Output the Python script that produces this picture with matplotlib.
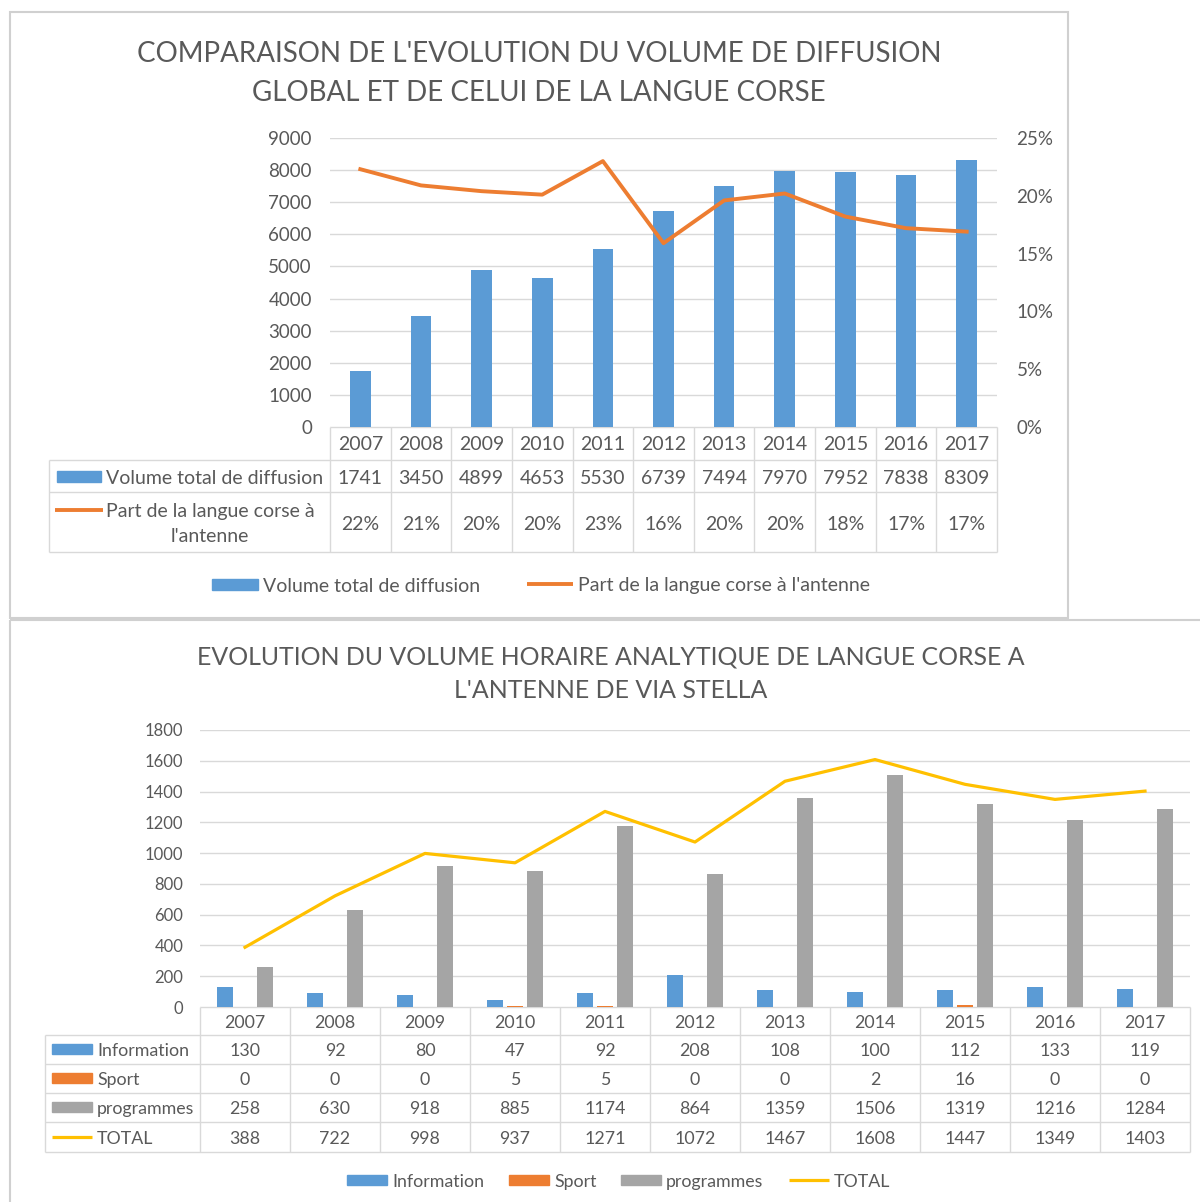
import matplotlib
matplotlib.use("Agg")
import matplotlib.pyplot as plt
import numpy as np
from matplotlib.patches import Rectangle

plt.rcParams['font.family'] = ['Lato', 'DejaVu Sans']

# données
annees = ['2007', '2008', '2009', '2010', '2011', '2012', '2013', '2014', '2015', '2016', '2017']
volume_total = [1741, 3450, 4899, 4653, 5530, 6739, 7494, 7970, 7952, 7838, 8309]
part_corse = [0.223, 0.209, 0.204, 0.201, 0.230, 0.159, 0.196, 0.202, 0.182, 0.172, 0.169]

information = [130, 92, 80, 47, 92, 208, 108, 100, 112, 133, 119]
sport = [0, 0, 0, 5, 5, 0, 0, 2, 16, 0, 0]
programmes = [258, 630, 918, 885, 1174, 864, 1359, 1506, 1319, 1216, 1284]
total = [388, 722, 998, 937, 1271, 1072, 1467, 1608, 1447, 1349, 1403]

BLEU = '#5B9BD5'
ORANGE = '#ED7D31'
GRIS = '#A5A5A5'
JAUNE = '#FFC000'
TXT = '#595959'
GRILLE = '#D9D9D9'

FS1 = 14     # textes du graphique du haut
FS2 = 12.8   # textes du graphique du bas

W, H = 1200, 1202
fig = plt.figure(figsize=(W / 100, H / 100), dpi=100)


def rect_ax(x0, y0, x1, y1):
    # pixels (haut-gauche) -> coordonnées figure
    return [x0 / W, 1 - y1 / H, (x1 - x0) / W, (y1 - y0) / H]


# fond en pixels pour cadres et tableaux
bg = fig.add_axes([0, 0, 1, 1])
bg.set_xlim(0, W)
bg.set_ylim(H, 0)
bg.axis('off')


def ligne(x0, y0, x1, y1, c=GRILLE, lw=1.0):
    bg.plot([x0, x1], [y0, y1], color=c, lw=lw, solid_capstyle='butt')


def texte(x, y, s, fs, ha='center'):
    # léger décalage vers le bas pour centrer comme dans Excel
    bg.text(x, y + 2, s, ha=ha, va='center', fontsize=fs, color=TXT)


# cadres
bg.add_patch(Rectangle((10, 12), 1058, 606, fill=False, ec='#D0D0D0', lw=1.5))
ligne(10, 620, 1200, 620, '#D0D0D0', 1.5)
ligne(10, 620, 10, 1202, '#D0D0D0', 1.5)

# ---------------- graphique du haut ----------------
texte(539, 52, "COMPARAISON DE L'EVOLUTION DU VOLUME DE DIFFUSION", 20)
texte(539, 91, "GLOBAL ET DE CELUI DE LA LANGUE CORSE", 20)

x0, x1 = 330, 997
ax1 = fig.add_axes(rect_ax(x0, 138, x1, 427))
x = np.arange(len(annees))
ax1.bar(x, volume_total, width=0.34, color=BLEU, zorder=3)
ax1.set_xlim(-0.5, len(annees) - 0.5)
ax1.set_ylim(0, 9000)
ax1.set_yticks(range(0, 9001, 1000))
ax1.set_xticks([])
ax1.grid(axis='y', color=GRILLE, lw=1)
for s in ax1.spines.values():
    s.set_visible(False)
ax1.tick_params(axis='y', length=0, pad=13, labelsize=13.5, labelcolor=TXT)

ax1b = ax1.twinx()
ax1b.plot(x, part_corse, color=ORANGE, lw=2.8, zorder=4)
ax1b.set_ylim(0, 0.25)
ax1b.set_yticks(np.arange(0, 0.26, 0.05))
ax1b.set_yticklabels([f'{int(round(v * 100))}%' for v in np.arange(0, 0.26, 0.05)])
for s in ax1b.spines.values():
    s.set_visible(False)
ax1b.tick_params(axis='y', length=0, pad=14, labelsize=13.5, labelcolor=TXT)

# tableau du haut
cw = (x1 - x0) / len(annees)
ligne(x0, 427, x1, 427)
for yy in (460, 492, 552):
    ligne(49, yy, x1, yy)
ligne(49, 460, 49, 552)
for i in range(len(annees) + 1):
    ligne(x0 + i * cw, 427, x0 + i * cw, 552)
for i, a in enumerate(annees):
    cx = x0 + (i + 0.5) * cw
    texte(cx, 443, a, FS1)
    texte(cx, 476, str(volume_total[i]), FS1)
    texte(cx, 522, f'{int(round(part_corse[i] * 100))}%', FS1)
bg.add_patch(Rectangle((57, 471), 44, 11, color=BLEU))
texte(106, 476, 'Volume total de diffusion', FS1, ha='left')
ligne(55, 510, 103, 510, ORANGE, 2.8)
texte(106, 510, 'Part de la langue corse à', FS1, ha='left')
texte(210, 535, "l'antenne", FS1)

# légende du haut
bg.add_patch(Rectangle((212, 579), 46, 11, color=BLEU))
texte(263, 584, 'Volume total de diffusion', FS1, ha='left')
ligne(527, 584, 573, 584, ORANGE, 2.8)
texte(578, 584, "Part de la langue corse à l'antenne", FS1, ha='left')

# ---------------- graphique du bas ----------------
texte(611, 655, 'EVOLUTION DU VOLUME HORAIRE ANALYTIQUE DE LANGUE CORSE A', 17.9)
texte(611, 689, "L'ANTENNE DE VIA STELLA", 17.9)

b0, b1 = 200, 1190
ax2 = fig.add_axes(rect_ax(b0, 730, b1, 1007))
lb = 0.18
ax2.bar(x - 0.22, information, width=lb, color=BLEU, zorder=3)
ax2.bar(x, sport, width=lb, color=ORANGE, zorder=3)
ax2.bar(x + 0.22, programmes, width=lb, color=GRIS, zorder=3)
ax2.plot(x, total, color=JAUNE, lw=2.3, zorder=4)
ax2.set_xlim(-0.5, len(annees) - 0.5)
ax2.set_ylim(0, 1800)
ax2.set_yticks(range(0, 1801, 200))
ax2.set_xticks([])
ax2.grid(axis='y', color=GRILLE, lw=1)
for s in ax2.spines.values():
    s.set_visible(False)
ax2.tick_params(axis='y', length=0, pad=12, labelsize=12, labelcolor=TXT)

# tableau du bas
cw2 = (b1 - b0) / len(annees)
ligne(b0, 1007, b1, 1007)
for yy in (1035, 1064, 1093, 1122, 1152):
    ligne(45, yy, b1, yy)
ligne(45, 1035, 45, 1152)
for i in range(len(annees) + 1):
    ligne(b0 + i * cw2, 1007, b0 + i * cw2, 1152)
series = [('Information', information, BLEU, 'bar'),
          ('Sport', sport, ORANGE, 'bar'),
          ('programmes', programmes, GRIS, 'bar'),
          ('TOTAL', total, JAUNE, 'line')]
rows_y = [1049, 1078, 1107, 1137]
for i, a in enumerate(annees):
    cx = b0 + (i + 0.5) * cw2
    texte(cx, 1021, a, FS2)
    for (nom, vals, c, k), ry in zip(series, rows_y):
        texte(cx, ry, str(vals[i]), FS2)
for (nom, vals, c, k), ry in zip(series, rows_y):
    if k == 'bar':
        bg.add_patch(Rectangle((52, ry - 5), 40, 10, color=c))
    else:
        ligne(52, ry, 92, ry, c, 2.3)
    texte(97, ry, nom, FS2, ha='left')

# légende du bas
leg_x = [347, 509, 621, 789]
for (nom, vals, c, k), lx in zip(series, leg_x):
    if k == 'bar':
        bg.add_patch(Rectangle((lx, 1175), 40, 10, color=c))
    else:
        ligne(lx, 1180, lx + 40, 1180, c, 2.3)
    texte(lx + 45, 1180, nom, FS2, ha='left')

fig.savefig('out.png', dpi=100, facecolor='white')
